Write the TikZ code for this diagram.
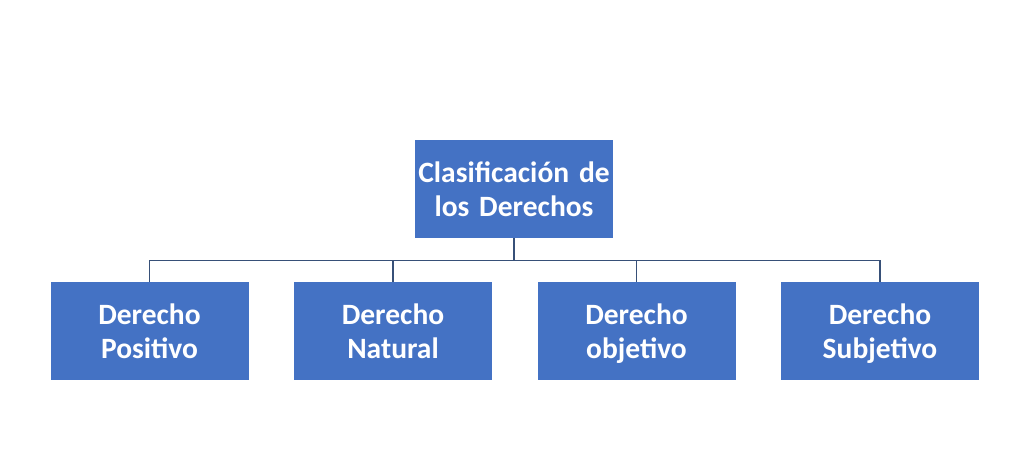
\documentclass[tikz,border=0pt]{standalone}
\usepackage{xcolor}
\usepackage{fontspec}
\setmainfont{Carlito}[WordSpace=0.8]
\usepackage{tikz}
\usetikzlibrary{positioning, calc}
\definecolor{BoxBlue}{RGB}{68, 114, 196}
\definecolor{LineBlue}{RGB}{55, 80, 120}

\tikzset{
  catbox/.style={
    fill=BoxBlue, draw=none, text=white,
    minimum width=198pt, minimum height=98pt,
    text width=198pt, inner sep=0pt, align=center,
    font=\fontsize{29.5}{34}\selectfont\bfseries,
    execute at begin node=\rule{0pt}{27.5pt},
    execute at end node=\rule[-6.5pt]{0pt}{0pt}
  },
  link/.style={draw=LineBlue, line width=1.3pt}
}

\begin{document}
\begin{tikzpicture}[x=1pt, y=-1pt]
    \useasboundingbox (0,0) rectangle (1024,453);
    % raiz
    \node[catbox] (raiz) at (514,189) {Clasificación de\\los Derechos};
    % ramas
    \node[catbox] (pos) at (149.5,331) {Derecho\\Positivo};
    \node[catbox] (nat) at (393,331) {Derecho\\Natural};
    \node[catbox] (obj) at (636.5,331) {Derecho\\objetivo};
    \node[catbox] (sub) at (880,331) {Derecho\\Subjetivo};
    % conectores
    \coordinate (bar) at ($(raiz.south)+(0,22)$);
    \foreach \n in {pos, nat, obj, sub}
      \draw[link] (raiz.south) -- (bar) -| (\n.north);
  \end{tikzpicture}
\end{document}
